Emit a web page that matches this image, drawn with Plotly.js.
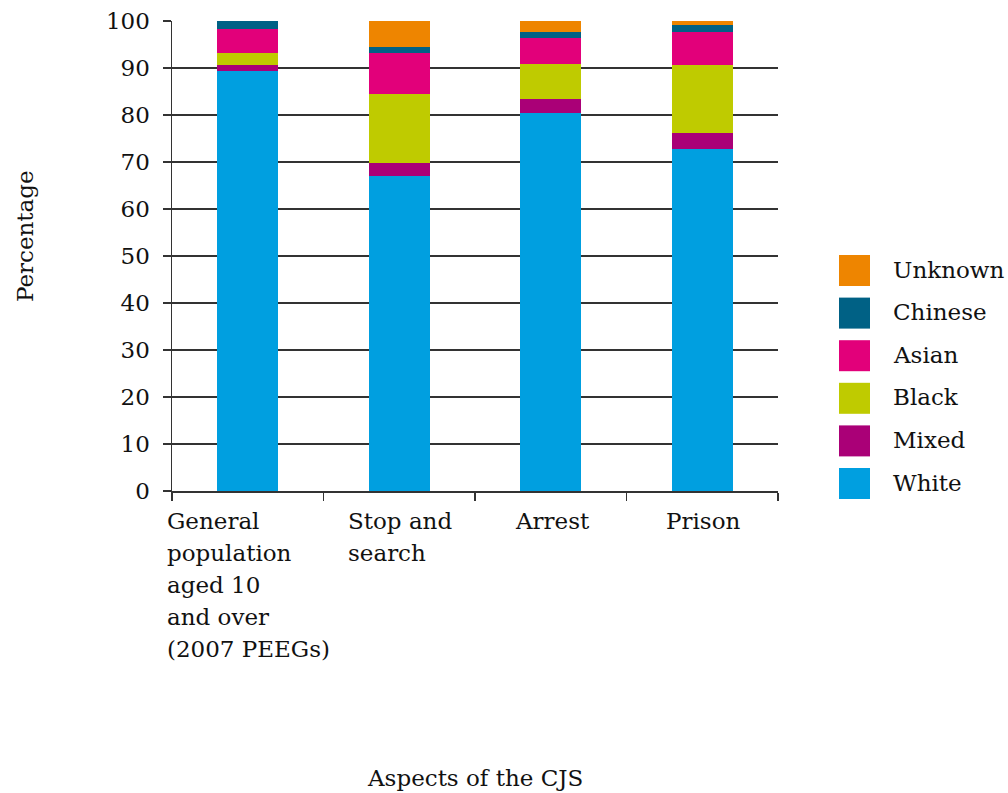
<!DOCTYPE html>
<html>
<head>
<meta charset="utf-8">
<script src="https://cdn.plot.ly/plotly-3.0.1.min.js"></script>
<style>html,body{margin:0;padding:0;background:#fff;}#chart{width:1008px;height:793px;}</style>
</head>
<body>
<div id="chart"></div>
<script>
// ---- data ----
var categories = ["General population aged 10 and over (2007 PEEGs)", "Stop and search", "Arrest", "Prison"];
var categoryLabels = ["General<br>population<br>aged 10<br>and over<br>(2007 PEEGs)", "Stop and<br>search", "Arrest", "Prison"];
var seriesNames = ["White", "Mixed", "Black", "Asian", "Chinese", "Unknown"];
var white   = [89.3, 67.0, 80.5, 72.7];
var mixed   = [1.3, 2.7, 2.8, 3.4];
var black   = [2.6, 14.7, 7.6, 14.5];
var asian   = [5.2, 8.8, 5.5, 7.1];
var chinese = [1.6, 1.3, 1.3, 1.5];
var unknown = [0.0, 5.5, 2.3, 0.8];
var seriesValues = [white, mixed, black, asian, chinese, unknown];
var seriesColors = ["#009fe0", "#aa0077", "#bfcb00", "#e2007a", "#006185", "#ee8500"];
var yTickVals = [0, 10, 20, 30, 40, 50, 60, 70, 80, 90, 100];
var xTitle = "Aspects of the CJS";
var yTitle = "Percentage";

// ---- layout geometry ----
var W = 1008, H = 793;
var L = 172, R = 778, T = 21, B = 491;
var FONT = "DejaVu Serif, Georgia, serif";
var FS = 23;
function px2x(p) { return (p - L) / (R - L); }
function px2y(p) { return (B - p) / (B - T); }

var ctx = document.createElement("canvas").getContext("2d");
ctx.font = FS + "px 'DejaVu Serif'";
function textW(s) { return ctx.measureText(s).width; }

var traces = seriesNames.map(function (name, i) {
  return {
    type: "bar",
    name: name,
    x: categories,
    y: seriesValues[i],
    marker: { color: seriesColors[i], line: { width: 0 } },
    showlegend: false,
    hoverinfo: "name+y"
  };
});

var shapes = [];
var annotations = [];

// custom legend (largest series on the bottom)
var legTop = 269.5, legStep = 42.6, sw = 31;
for (var k = 0; k < seriesNames.length; k++) {
  var idx = seriesNames.length - 1 - k;
  var cy = legTop + k * legStep;
  shapes.push({
    type: "rect", xref: "paper", yref: "paper",
    x0: px2x(839), x1: px2x(839 + sw),
    y0: px2y(cy + sw / 2 + 1), y1: px2y(cy - sw / 2 + 1),
    fillcolor: seriesColors[idx], line: { width: 0 }
  });
  annotations.push({
    xref: "paper", yref: "paper", x: px2x(892), y: px2y(cy),
    xanchor: "left", yanchor: "middle", showarrow: false, borderpad: 0,
    text: seriesNames[idx], font: { family: FONT, size: FS, color: "#111" }
  });
}

// category labels: left-aligned block centred on the category, 32px line pitch
var catW = (R - L) / categories.length;
categories.forEach(function (c, i) {
  var lines = categoryLabels[i].split("<br>");
  var maxW = Math.max.apply(null, lines.map(textW));
  var left = L + catW * (i + 0.5) - maxW / 2;
  lines.forEach(function (ln, j) {
    annotations.push({
      xref: "paper", yref: "paper", x: px2x(left), y: px2y(521 + 32 * j),
      xanchor: "left", yanchor: "middle", showarrow: false, borderpad: 0,
      text: ln, font: { family: FONT, size: FS, color: "#111" }
    });
  });
});

// axis titles
annotations.push({
  xref: "paper", yref: "paper", x: px2x(475), y: px2y(778),
  xanchor: "center", yanchor: "middle", showarrow: false,
  text: xTitle, font: { family: FONT, size: FS, color: "#111" }
});
annotations.push({
  xref: "paper", yref: "paper", x: px2x(25), y: px2y(236),
  xanchor: "center", yanchor: "middle", showarrow: false, textangle: -90,
  text: yTitle, font: { family: FONT, size: FS, color: "#111" }
});

var layout = {
  width: W, height: H,
  margin: { l: L, r: W - R, t: T, b: H - B, pad: 0 },
  paper_bgcolor: "#fff", plot_bgcolor: "#fff",
  barmode: "stack",
  bargap: 0.6,
  font: { family: FONT, size: FS, color: "#111" },
  xaxis: {
    type: "category",
    range: [-0.5, 3.5],
    showticklabels: false,
    ticks: "outside", tickson: "boundaries", ticklen: 8, tickwidth: 1.5, tickcolor: "#333",
    showline: true, linecolor: "#333", linewidth: 1.5,
    showgrid: false, zeroline: false, fixedrange: true
  },
  yaxis: {
    range: [0, 100],
    tickvals: yTickVals,
    ticks: "outside", ticklen: 8, tickwidth: 1.5, tickcolor: "#333",
    ticklabelstandoff: 8,
    showline: true, linecolor: "#333", linewidth: 1.5,
    showgrid: true, gridcolor: "#333", gridwidth: 1.5,
    zeroline: false, fixedrange: true,
    tickfont: { family: FONT, size: FS, color: "#111" }
  },
  shapes: shapes,
  annotations: annotations
};

Plotly.newPlot("chart", traces, layout, { displayModeBar: false, staticPlot: true });
</script>
</body>
</html>
